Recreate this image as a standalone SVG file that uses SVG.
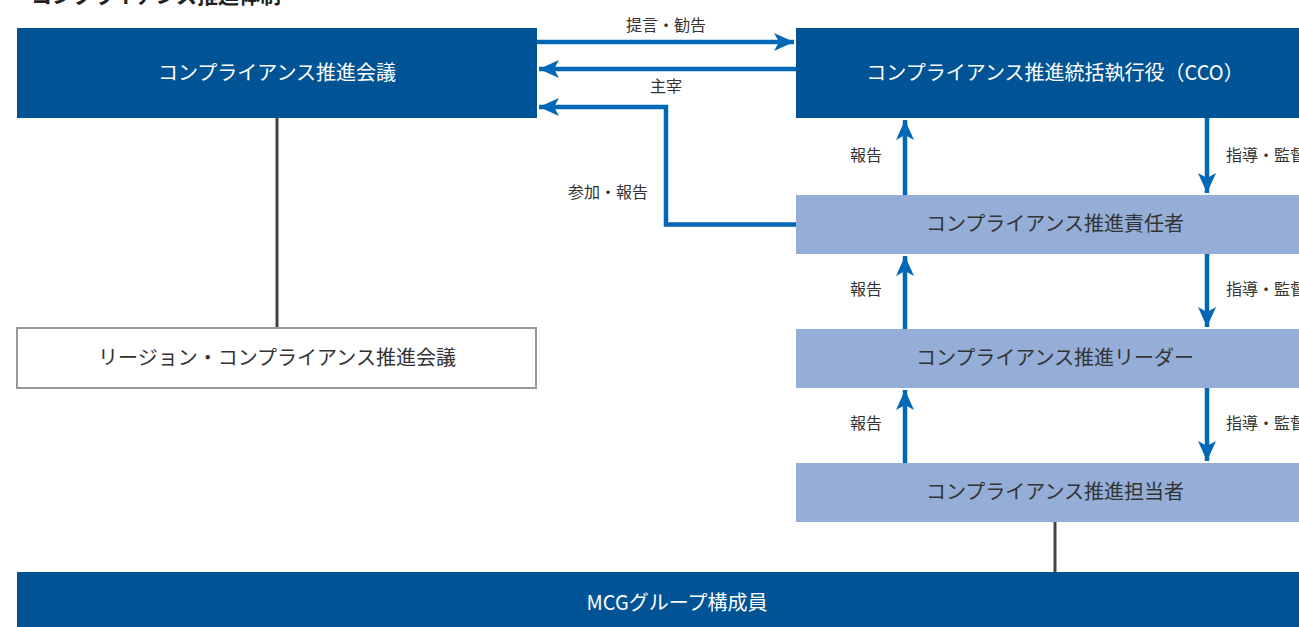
<svg xmlns="http://www.w3.org/2000/svg" width="1299" height="627" viewBox="0 0 1299 627">
<style>
.t{font-family:"Noto Sans CJK JP","Noto Sans",sans-serif;}
.w{fill:#ffffff;font-size:20px;text-anchor:middle;}
.d{fill:#333333;font-size:20px;text-anchor:middle;}
.l{fill:#333333;font-size:16px;}
.dark{fill:#005495;}
.light{fill:#95aed8;}
.blue{stroke:#0068b7;stroke-width:4.5;fill:none;}
.gray{stroke:#444444;stroke-width:3;fill:none;}
</style>
<defs>
<marker id="ah" markerUnits="userSpaceOnUse" markerWidth="24" markerHeight="20" viewBox="-22 -10 24 20" refX="0" refY="0" orient="auto">
<path d="M0,0 L-20,-9 L-15,0 L-20,9 Z" fill="#0068b7"/>
</marker>
</defs>
<text class="t" x="31" y="3" style="font-size:21px;font-weight:bold;fill:#222">コンプライアンス推進体制</text>
<g id="connectors">
<line class="gray" x1="277" y1="118" x2="277" y2="327"/>
<line class="gray" x1="1055" y1="522" x2="1055" y2="572"/>
<line class="blue" x1="537" y1="42" x2="794" y2="42" marker-end="url(#ah)"/>
<line class="blue" x1="796" y1="69" x2="539" y2="69" marker-end="url(#ah)"/>
<polyline class="blue" points="796,224.5 666,224.5 666,107 539,107" marker-end="url(#ah)"/>
<line class="blue" x1="905" y1="195" x2="905" y2="120" marker-end="url(#ah)"/>
<line class="blue" x1="905" y1="329" x2="905" y2="256" marker-end="url(#ah)"/>
<line class="blue" x1="905" y1="463" x2="905" y2="390" marker-end="url(#ah)"/>
<line class="blue" x1="1207" y1="118" x2="1207" y2="193" marker-end="url(#ah)"/>
<line class="blue" x1="1207" y1="254" x2="1207" y2="327" marker-end="url(#ah)"/>
<line class="blue" x1="1207" y1="388" x2="1207" y2="461" marker-end="url(#ah)"/>
<text class="t l" x="666" y="31" text-anchor="middle">提言・勧告</text>
<text class="t l" x="666" y="92" text-anchor="middle">主宰</text>
<text class="t l" x="608" y="198" text-anchor="middle">参加・報告</text>
<text class="t l" x="866" y="161" text-anchor="middle">報告</text>
<text class="t l" x="866" y="295" text-anchor="middle">報告</text>
<text class="t l" x="866" y="429" text-anchor="middle">報告</text>
<text class="t l" x="1226" y="161">指導・監督</text>
<text class="t l" x="1226" y="295">指導・監督</text>
<text class="t l" x="1226" y="429">指導・監督</text>
</g>
<g id="n-council">
<rect class="dark" x="17" y="28" width="520" height="90"/>
<text class="t w" x="277" y="80">コンプライアンス推進会議</text>
</g>
<g id="n-cco">
<rect class="dark" x="796" y="28" width="503" height="90"/>
<text class="t w" x="1055" y="80">コンプライアンス推進統括執行役（CCO）</text>
</g>
<g id="n-manager">
<rect class="light" x="796" y="195" width="503" height="59"/>
<text class="t d" x="1055" y="231">コンプライアンス推進責任者</text>
</g>
<g id="n-leader">
<rect class="light" x="796" y="329" width="503" height="59"/>
<text class="t d" x="1055" y="365">コンプライアンス推進リーダー</text>
</g>
<g id="n-staff">
<rect class="light" x="796" y="463" width="503" height="59"/>
<text class="t d" x="1055" y="499">コンプライアンス推進担当者</text>
</g>
<g id="n-region">
<rect x="17" y="328" width="519" height="60" fill="#ffffff" stroke="#999999" stroke-width="2"/>
<text class="t d" x="277" y="365">リージョン・コンプライアンス推進会議</text>
</g>
<g id="n-members">
<rect class="dark" x="17" y="572" width="1282" height="55"/>
<text class="t w" x="677" y="610">MCGグループ構成員</text>
</g>
</svg>
